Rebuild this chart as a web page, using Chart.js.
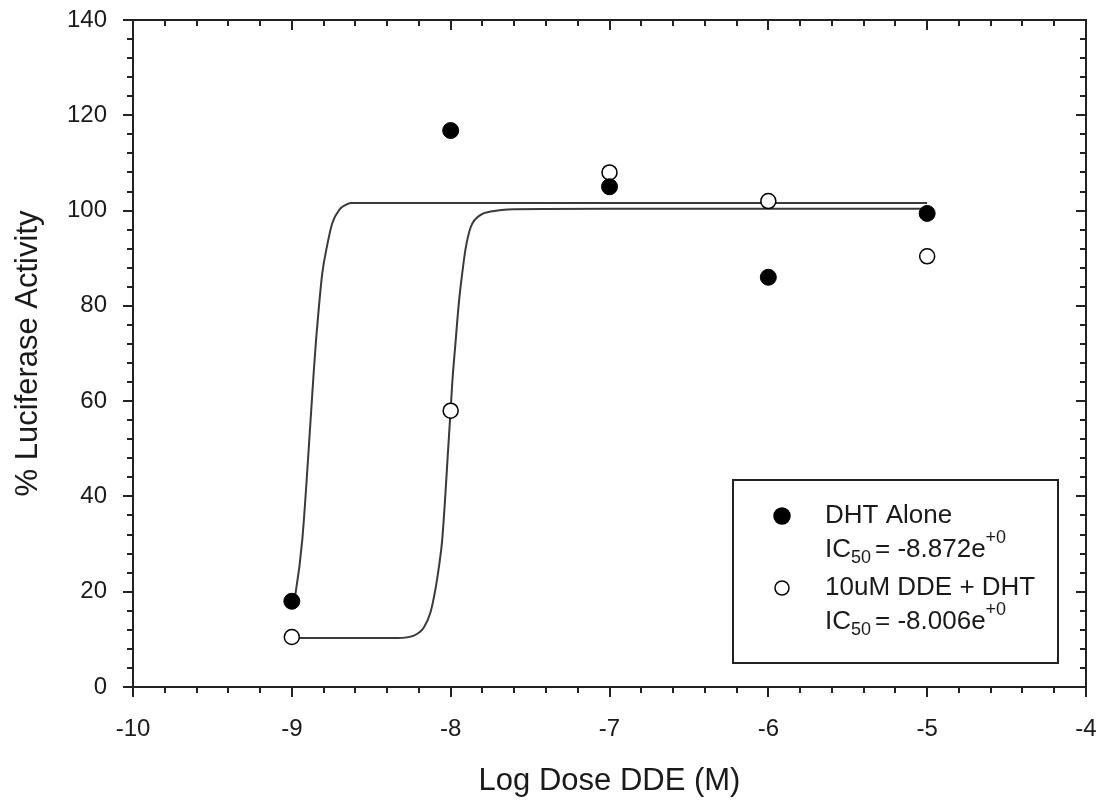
<!DOCTYPE html>
<html>
<head>
<meta charset="utf-8">
<title>Luciferase Activity vs Log Dose DDE</title>
<script src="https://cdn.jsdelivr.net/npm/chart.js@4/dist/chart.umd.min.js"></script>
<style>
    html, body { margin: 0; padding: 0; background: #fff; }
    #wrap { width: 1101px; height: 801px; }
</style>
</head>
<body>
<div id="wrap"><canvas id="doseChart" width="1101" height="801"></canvas></div>
<script>
// Measured points (log dose, % luciferase activity)
const logDoses = [-9, -8, -7, -6, -5];
const dhtAlone = [18, 116.8, 105, 86, 99.4];
const ddePlusDht = [10.5, 58, 108, 102, 90.4];

// Fitted curves
const dhtFitX = [-9.0, -8.976, -8.934, -8.882, -8.861, -8.846, -8.829, -8.808, -8.777, -8.745, -8.70, -8.66, -8.63, -8.0, -7.0, -6.0, -5.0];
const dhtFitY = [16.5, 19.8, 31.0, 56.0, 66.7, 73.5, 80.0, 86.9, 92.8, 97.4, 100.2, 101.2, 101.6, 101.6, 101.6, 101.6, 101.6];
const ddeFitX = [-9.0, -8.6, -8.336, -8.232, -8.169, -8.127, -8.096, -8.074, -8.053, -8.011, -8.0, -7.990, -7.969, -7.948, -7.927, -7.906, -7.874, -7.811, -7.748, -7.6, -7.0, -6.0, -5.0];
const ddeFitY = [10.3, 10.3, 10.3, 10.8, 12.5, 15.7, 20.5, 25.2, 31.0, 52.5, 58.3, 63.8, 72.5, 80.8, 86.9, 92.0, 96.5, 99.1, 99.8, 100.3, 100.4, 100.4, 100.4];

// Axis ranges
const xRange = [-10, -4];
const yRange = [0, 140];

// Legend labels
const legendItems = [
    { name: "DHT Alone", ic50: "-8.872e", exp: "+0", filled: true },
    { name: "10uM DDE + DHT", ic50: "-8.006e", exp: "+0", filled: false }
];

const FONT = "'Liberation Sans', Arial, sans-serif";
const INK = "#1a1a1a";

function toXY(xs, ys) {
    return xs.map((x, i) => ({ x: x, y: ys[i] }));
}

// Box frame with SigmaPlot style major/minor ticks
const frameTicks = {
    id: "frameTicks",
    afterDatasetsDraw(chart) {
        const { ctx, chartArea: a, scales } = chart;
        const xs = scales.x, ys = scales.y;
        ctx.save();
        ctx.strokeStyle = "#222";
        ctx.lineWidth = 2;
        ctx.strokeRect(a.left, a.top, a.right - a.left, a.bottom - a.top);

        ctx.beginPath();
        // x ticks, every 0.2
        for (let i = 0; i <= 30; i++) {
            const v = xRange[0] + i * 0.2;
            const px = Math.round(xs.getPixelForValue(v));
            const major = i % 5 === 0;
            ctx.moveTo(px, a.bottom);
            ctx.lineTo(px, a.bottom + (major ? 10 : 6));
            ctx.moveTo(px, a.top);
            ctx.lineTo(px, a.top + (major ? 10 : 6));
        }
        // y ticks, every 4
        for (let i = 0; i <= 35; i++) {
            const v = yRange[0] + i * 4;
            const py = Math.round(ys.getPixelForValue(v));
            const major = i % 5 === 0;
            ctx.moveTo(a.left, py);
            ctx.lineTo(a.left - (major ? 10 : 6), py);
            ctx.moveTo(a.right, py);
            ctx.lineTo(a.right - (major ? 10 : 6), py);
        }
        ctx.stroke();
        ctx.restore();
    }
};

// Legend box with IC50 values
const icLegend = {
    id: "icLegend",
    afterDraw(chart) {
        const { ctx, chartArea: a } = chart;
        const box = { right: a.right - 28, bottom: a.bottom - 24, w: 325, h: 183 };
        const left = box.right - box.w, top = box.bottom - box.h;
        ctx.save();
        ctx.fillStyle = "#fff";
        ctx.fillRect(left, top, box.w, box.h);
        ctx.strokeStyle = "#222";
        ctx.lineWidth = 2;
        ctx.strokeRect(left, top, box.w, box.h);

        const markX = left + 49;
        const textX = left + 92;
        ctx.textBaseline = "middle";
        legendItems.forEach((item, i) => {
            const y1 = top + 36 + i * 72;
            const y2 = y1 + 34;

            ctx.beginPath();
            ctx.arc(markX, y1, item.filled ? 8 : 7, 0, Math.PI * 2);
            ctx.fillStyle = item.filled ? "#000" : "#fff";
            ctx.fill();
            ctx.lineWidth = 1.5;
            ctx.strokeStyle = "#000";
            ctx.stroke();

            ctx.fillStyle = INK;
            ctx.font = "26px " + FONT;
            ctx.fillText(item.name, textX, y1);

            let x = textX;
            ctx.fillText("IC", x, y2);
            x += ctx.measureText("IC").width;
            ctx.font = "18px " + FONT;
            ctx.fillText("50", x, y2 + 8);
            x += ctx.measureText("50").width + 4;
            ctx.font = "26px " + FONT;
            const body = "= " + item.ic50;
            ctx.fillText(body, x, y2);
            x += ctx.measureText(body).width;
            ctx.font = "18px " + FONT;
            ctx.fillText(item.exp, x, y2 - 12);
        });
        ctx.restore();
    }
};

new Chart(document.getElementById("doseChart").getContext("2d"), {
    type: "scatter",
    data: {
        datasets: [
            {
                label: "DHT Alone",
                data: toXY(logDoses, dhtAlone),
                pointRadius: 8,
                pointBackgroundColor: "#000",
                pointBorderColor: "#000",
                pointBorderWidth: 1,
                order: 0
            },
            {
                label: "10uM DDE + DHT",
                data: toXY(logDoses, ddePlusDht),
                pointRadius: 7.5,
                pointBackgroundColor: "#fff",
                pointBorderColor: "#000",
                pointBorderWidth: 1.5,
                order: 1
            },
            {
                label: "DHT Alone fit",
                data: toXY(dhtFitX, dhtFitY),
                showLine: true,
                pointRadius: 0,
                borderColor: "#3a3a3a",
                borderWidth: 2,
                cubicInterpolationMode: "monotone",
                order: 2
            },
            {
                label: "10uM DDE + DHT fit",
                data: toXY(ddeFitX, ddeFitY),
                showLine: true,
                pointRadius: 0,
                borderColor: "#3a3a3a",
                borderWidth: 2,
                cubicInterpolationMode: "monotone",
                order: 3
            }
        ]
    },
    options: {
        responsive: false,
        animation: false,
        layout: { padding: { top: 20, right: 15, left: 0, bottom: 0 } },
        plugins: {
            legend: { display: false },
            tooltip: { enabled: false }
        },
        scales: {
            x: {
                type: "linear",
                min: xRange[0],
                max: xRange[1],
                afterFit: (s) => { s.height = 114; s.paddingLeft = 0; s.paddingRight = 0; },
                grid: { display: false, drawTicks: false },
                border: { display: false },
                ticks: {
                    stepSize: 1,
                    autoSkip: false,
                    maxRotation: 0,
                    padding: 28,
                    color: INK,
                    font: { family: FONT, size: 24 }
                },
                title: {
                    display: true,
                    text: "Log Dose DDE (M)",
                    color: INK,
                    font: { family: FONT, size: 31 },
                    padding: { top: 0, bottom: 1 }
                }
            },
            y: {
                min: yRange[0],
                max: yRange[1],
                afterFit: (s) => { s.width = 133; s.paddingTop = 0; s.paddingBottom = 0; },
                grid: { display: false, drawTicks: false },
                border: { display: false },
                ticks: {
                    stepSize: 20,
                    padding: 26,
                    color: INK,
                    font: { family: FONT, size: 24 }
                },
                title: {
                    display: true,
                    text: "% Luciferase Activity",
                    color: INK,
                    font: { family: FONT, size: 31 },
                    padding: { top: 10, bottom: 0 }
                }
            }
        }
    },
    plugins: [frameTicks, icLegend]
});
</script>
</body>
</html>
